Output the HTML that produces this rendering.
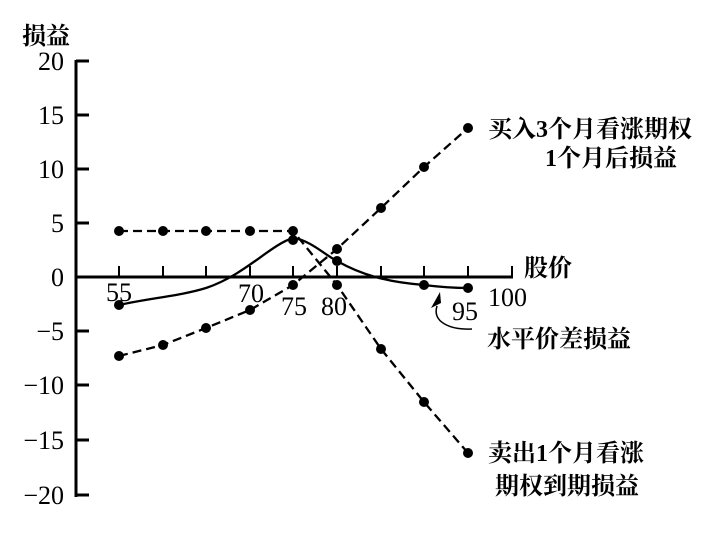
<!DOCTYPE html>
<html><head><meta charset="utf-8"><style>
html,body{margin:0;padding:0;background:#fff;}
svg text{font-family:"Liberation Serif","Noto Serif CJK SC",serif;fill:#000;}
.cn{font-family:"Liberation Serif","Noto Serif CJK SC",serif;font-weight:bold;}
</style></head><body>
<svg width="722" height="536" viewBox="0 0 722 536" xmlns="http://www.w3.org/2000/svg">
<g stroke="#000" stroke-width="3" fill="none">
<line x1="76" y1="60" x2="76" y2="497"/>
<line x1="76" y1="277" x2="513" y2="277"/>
<line x1="76" y1="61" x2="89" y2="61"/>
<line x1="76" y1="115" x2="89" y2="115"/>
<line x1="76" y1="169" x2="89" y2="169"/>
<line x1="76" y1="223" x2="89" y2="223"/>
<line x1="76" y1="331" x2="89" y2="331"/>
<line x1="76" y1="385" x2="89" y2="385"/>
<line x1="76" y1="440" x2="89" y2="440"/>
<line x1="76" y1="495" x2="89" y2="495"/>
<g stroke-width="2">
<line x1="119" y1="277" x2="119" y2="266"/><line x1="163" y1="277" x2="163" y2="266"/>
<line x1="206" y1="277" x2="206" y2="266"/><line x1="250" y1="277" x2="250" y2="266"/>
<line x1="293" y1="277" x2="293" y2="266"/><line x1="337" y1="277" x2="337" y2="266"/>
<line x1="381" y1="277" x2="381" y2="266"/><line x1="424" y1="277" x2="424" y2="266"/>
<line x1="468" y1="277" x2="468" y2="266"/><line x1="512" y1="277" x2="512" y2="266"/>
</g>
</g>
<g stroke="#000" stroke-width="2.3" fill="none" stroke-dasharray="9,5">
<polyline points="119,231 163,231 206,231 250,231 293,231 337,285 381,349 424,402 468,453"/>
<polyline points="119,356 163,345 206,328 250,310 293,285 337,249 381,208 424,167 468,128"/>
</g>
<path d="M119,305 C150,298 180,296 206,288 C245,275 270,245 293,238 C310,240 325,255 337,261 C360,274 385,282 424,285 C440,287 455,288 468,288" stroke="#000" stroke-width="2.3" fill="none"/>
<g fill="#000">
<circle cx="119" cy="231" r="5"/><circle cx="163" cy="231" r="5"/><circle cx="206" cy="231" r="5"/><circle cx="250" cy="231" r="5"/><circle cx="293" cy="231" r="5"/>
<circle cx="337" cy="285" r="5"/><circle cx="381" cy="349" r="5"/><circle cx="424" cy="402" r="5"/><circle cx="468" cy="453" r="5"/>
<circle cx="119" cy="356" r="5"/><circle cx="163" cy="345" r="5"/><circle cx="206" cy="328" r="5"/><circle cx="250" cy="310" r="5"/><circle cx="293" cy="285" r="5"/>
<circle cx="337" cy="249" r="5"/><circle cx="381" cy="208" r="5"/><circle cx="424" cy="167" r="5"/><circle cx="468" cy="128" r="5"/>
<circle cx="119" cy="305" r="5"/><circle cx="293" cy="240" r="5"/><circle cx="337" cy="261" r="5"/><circle cx="424" cy="285" r="5"/><circle cx="468" cy="288" r="5"/>
</g>
<path d="M472,329 C450,330 432,322 437,306" stroke="#000" stroke-width="1.5" fill="none"/>
<polygon points="431,308 441,303 440,292" fill="#000"/>
<g font-size="26" text-anchor="end">
<text x="64" y="70">20</text><text x="64" y="124">15</text><text x="64" y="178">10</text>
<text x="64" y="232">5</text><text x="64" y="286">0</text><text x="64" y="340">−5</text>
<text x="64" y="394">−10</text><text x="64" y="449">−15</text><text x="64" y="504">−20</text>
</g>
<g font-size="26">
<text x="106" y="301">55</text><text x="238" y="302">70</text><text x="281" y="315">75</text>
<text x="321" y="315">80</text><text x="452" y="320">95</text><text x="488" y="306">100</text>
</g>
<g font-size="24">
<text x="22" y="44" class="cn">损益</text>
<text x="524" y="276" class="cn">股价</text>
<text x="488" y="137" class="cn">买入3个月看涨期权</text>
<text x="545" y="166" class="cn">1个月后损益</text>
<text x="487" y="347" class="cn">水平价差损益</text>
<text x="488" y="461" class="cn">卖出1个月看涨</text>
<text x="495" y="494" class="cn">期权到期损益</text>
</g>
</svg>
</body></html>
